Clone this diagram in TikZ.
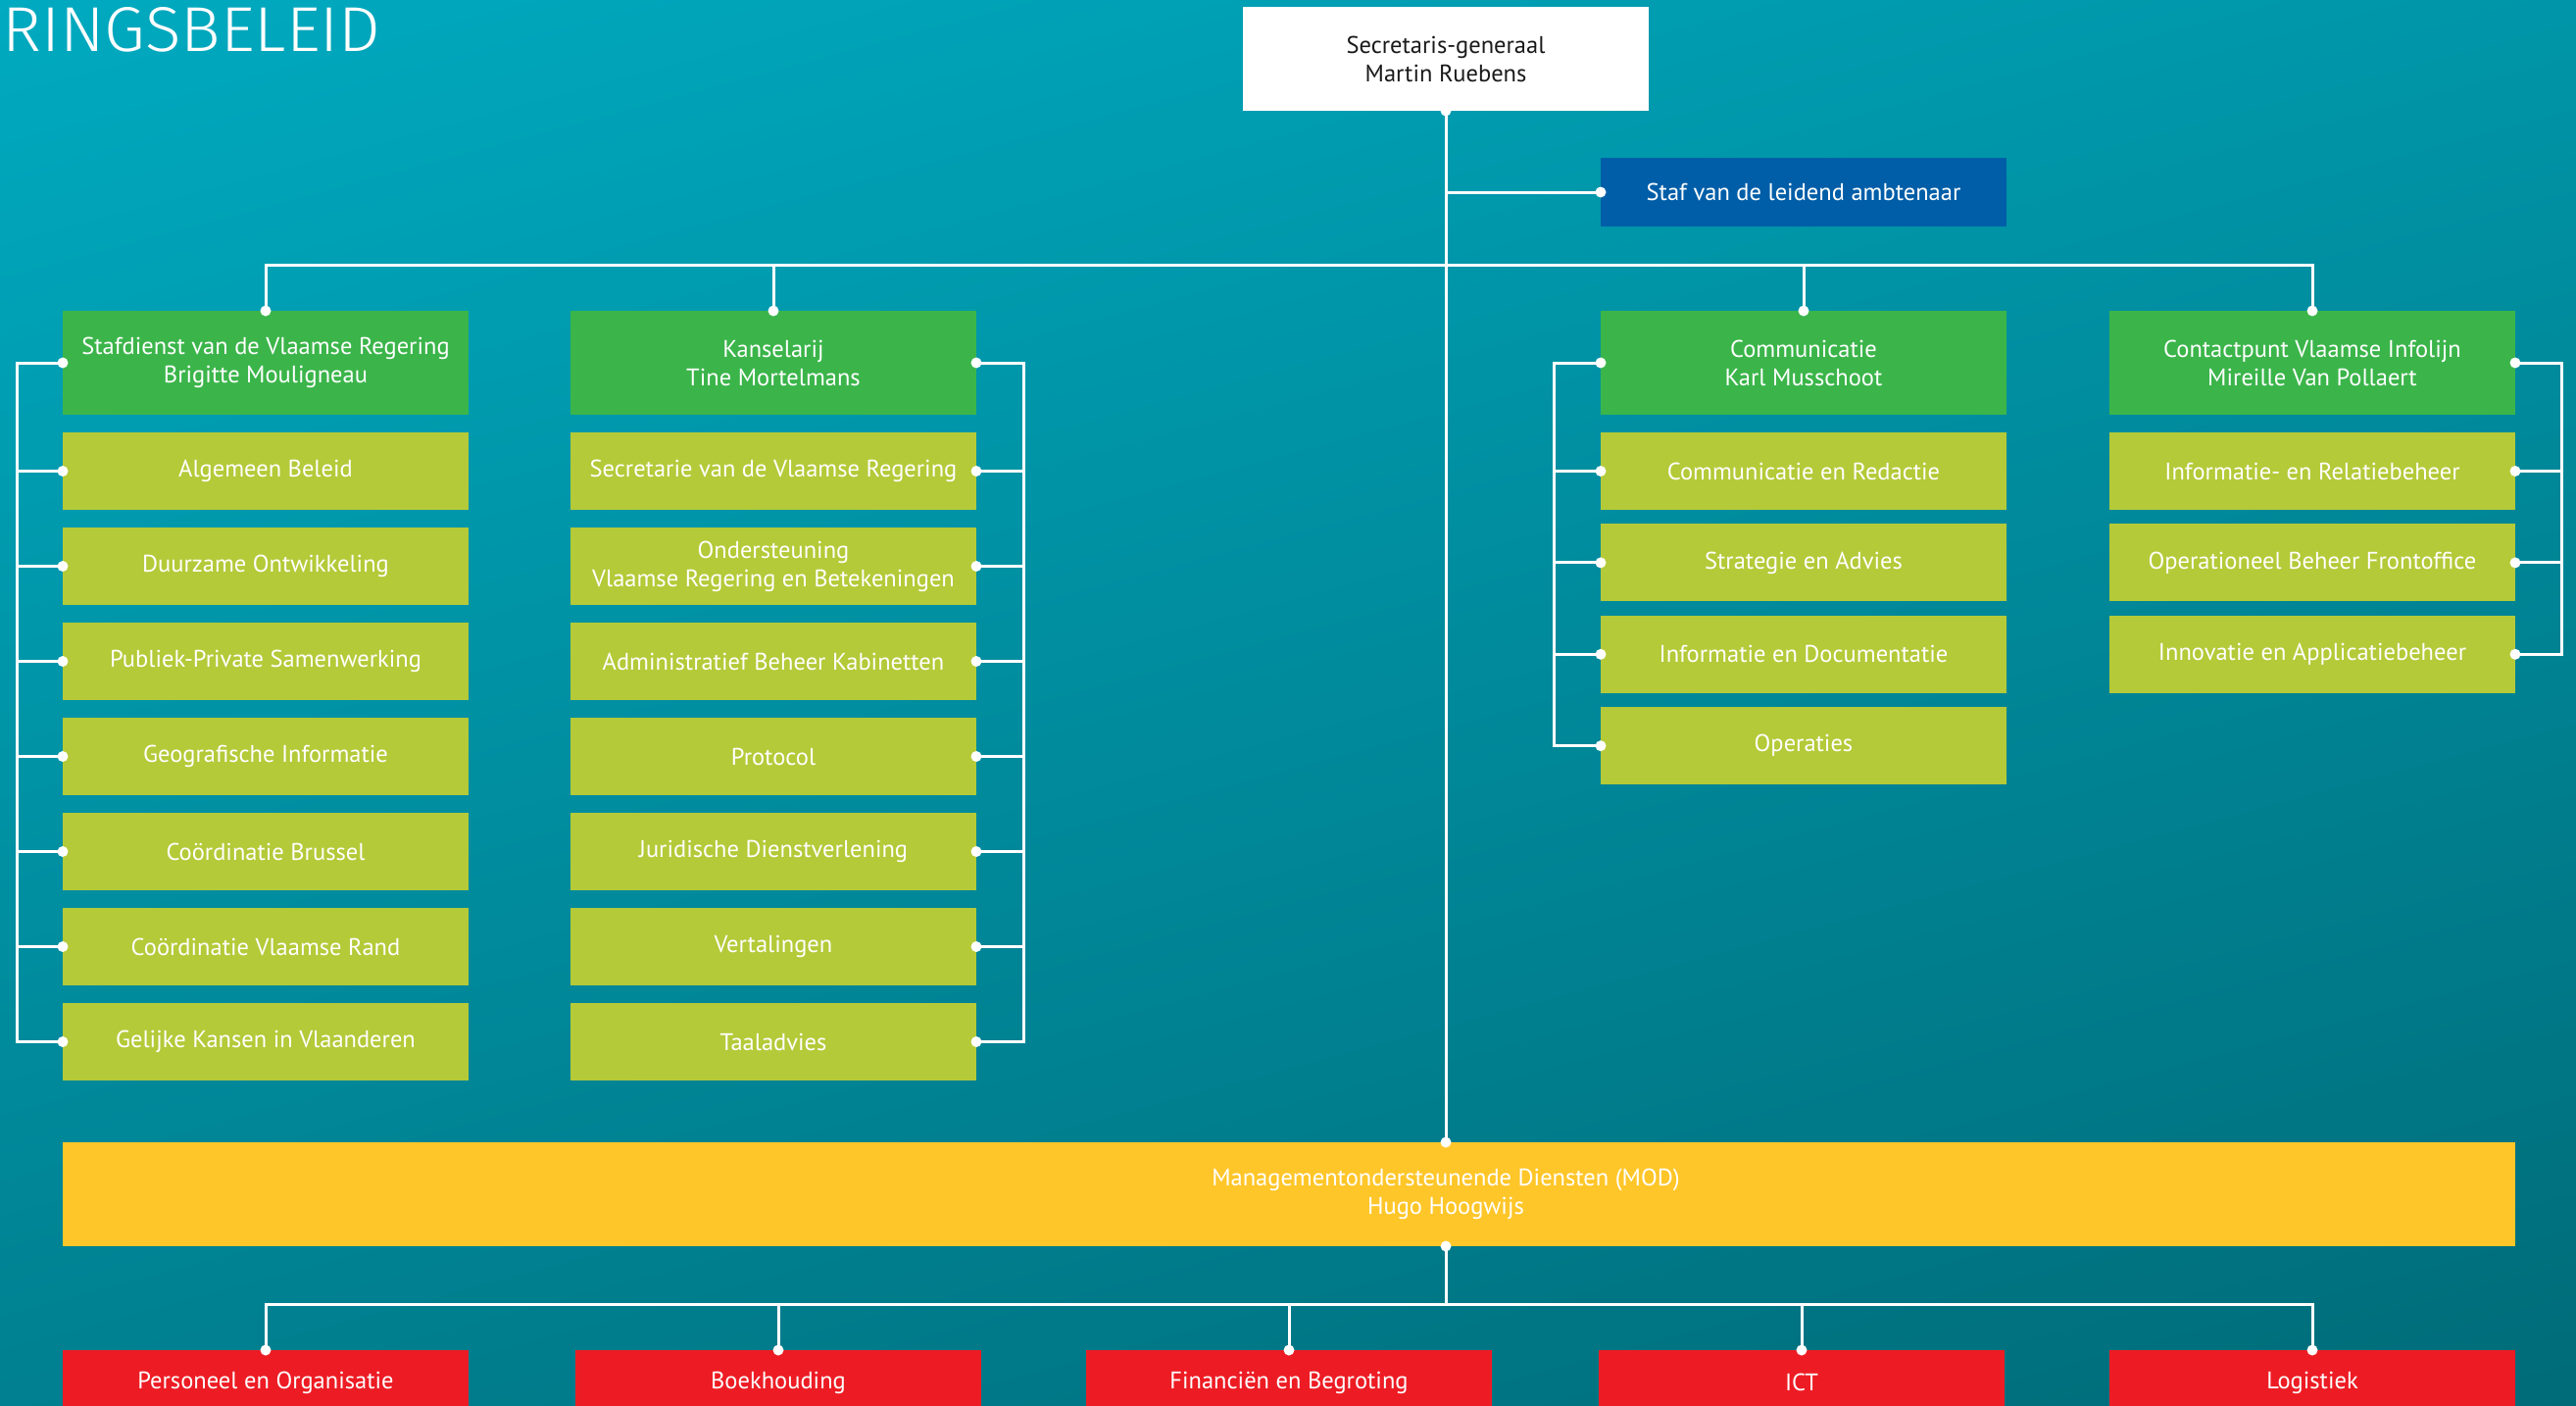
\documentclass[tikz,border=0pt]{standalone}
\usepackage{graphicx}
\usepackage{fontspec}
\setmainfont{PT Sans}
\IfFontExistsTF{Fira Sans Light}{\newfontfamily\titlefont{Fira Sans Light}}{\newfontfamily\titlefont{PT Sans}}
\definecolor{bgtop}{HTML}{00AAC0}
\definecolor{bgbot}{HTML}{006B78}
\definecolor{hdgreen}{HTML}{3BB54A}
\definecolor{limegr}{HTML}{B4CA38}
\definecolor{stafblue}{HTML}{005EA8}
\definecolor{modyellow}{HTML}{FFC629}
\definecolor{redbox}{HTML}{ED1C24}
\definecolor{darktext}{HTML}{1A1A1A}
\tikzset{
  box/.style={inner sep=0pt, outer sep=0pt, minimum width=414pt, anchor=north west,
    align=center, font=\fontsize{24.5}{29}\selectfont, text=white},
  header/.style={box, fill=hdgreen, minimum height=106pt},
  item/.style={box, fill=limegr, minimum height=79pt},
  redunit/.style={box, fill=redbox, minimum height=66pt},
  conn/.style={draw=white, line width=3pt},
}
\newcommand\dotat[1]{\fill[white] (#1) circle (5.5pt);}
\begin{document}
\begin{tikzpicture}[x=1pt,y=-1pt]
\useasboundingbox (0,0) rectangle (2628,1433);
\clip (0,0) rectangle (2628,1433);
\shade[top color=bgtop, bottom color=bgbot, shading angle=15] (-200,-200) rectangle (2828,1633);

% title
\node[anchor=south west, inner sep=0pt, text=white] (title) at (2,53)
  {\resizebox{386pt}{45pt}{\titlefont RINGSBELEID}};

% top
\node[box, fill=white, text=darktext, minimum width=414pt, minimum height=106pt] (sg) at (1268,7)
  {Secretaris-generaal\\Martin Ruebens};
\node[box, fill=stafblue, minimum height=70pt] (staf) at (1633,161) {Staf van de leidend ambtenaar};

% headers
\node[header] (s0) at (64,317) {Stafdienst van de Vlaamse Regering\\Brigitte Mouligneau};
\node[header] (k0) at (582,317) {Kanselarij\\Tine Mortelmans};
\node[header] (c0) at (1633,317) {Communicatie\\Karl Musschoot};
\node[header] (v0) at (2152,317) {Contactpunt Vlaamse Infolijn\\Mireille Van Pollaert};

% column items
\foreach \t [count=\i] in {Algemeen Beleid, Duurzame Ontwikkeling, Publiek-Private Samenwerking,
  Geografische Informatie, Coördinatie Brussel, Coördinatie Vlaamse Rand, Gelijke Kansen in Vlaanderen}
  \node[item] (s\i) at (64,{441+97*(\i-1)}) {\t};
\foreach \t [count=\i] in {Secretarie van de Vlaamse Regering, {Ondersteuning\\Vlaamse Regering en Betekeningen},
  Administratief Beheer Kabinetten, Protocol, Juridische Dienstverlening, Vertalingen, Taaladvies}
  \node[item] (k\i) at (582,{441+97*(\i-1)}) {\t};
\foreach \t [count=\i] in {Communicatie en Redactie, Strategie en Advies, Informatie en Documentatie, Operaties}
  \node[item] (c\i) at (1633,{441+93.4*(\i-1)}) {\t};
\foreach \t [count=\i] in {Informatie- en Relatiebeheer, Operationeel Beheer Frontoffice, Innovatie en Applicatiebeheer}
  \node[item] (v\i) at (2152,{441+93.4*(\i-1)}) {\t};

% MOD
\node[box, fill=modyellow, minimum width=2502pt, minimum height=106pt] (mod) at (64,1165) {};
\node[inner sep=0pt, align=center, text=white, font=\fontsize{24.5}{29}\selectfont] (modtext)
  at (sg.south |- mod.center) {Managementondersteunende Diensten (MOD)\\Hugo Hoogwijs};

% red units
\node[redunit] (r1) at (64,1377) {Personeel en Organisatie};
\node[redunit] (r2) at (587,1377) {Boekhouding};
\node[redunit] (r3) at (1108,1377) {Financiën en Begroting};
\node[redunit] (r4) at (1631,1377) {ICT};
\node[redunit] (r5) at (2152,1377) {Logistiek};

% helper coordinates
\coordinate (tbar) at (0,270);
\coordinate (bbar) at (0,1330);
\coordinate (b1) at (17,0);
\coordinate (b2) at (1044,0);
\coordinate (b3) at (1585,0);
\coordinate (b4) at (2613,0);

% trunk
\draw[conn] (sg.south) -- (sg.south |- mod.north);
\draw[conn] (staf.west) -- (staf.west -| sg.south);
\draw[conn] (s0.north) -- (s0.north |- tbar) -- (v0.north |- tbar) -- (v0.north);
\draw[conn] (k0.north) -- (k0.north |- tbar);
\draw[conn] (c0.north) -- (c0.north |- tbar);

% brackets
\draw[conn] (s0.west) -- (s0.west -| b1) |- (s7.west);
\foreach \i in {1,...,6} \draw[conn] (s\i.west) -- (s\i.west -| b1);
\draw[conn] (k0.east) -- (k0.east -| b2) |- (k7.east);
\foreach \i in {1,...,6} \draw[conn] (k\i.east) -- (k\i.east -| b2);
\draw[conn] (c0.west) -- (c0.west -| b3) |- (c4.west);
\foreach \i in {1,...,3} \draw[conn] (c\i.west) -- (c\i.west -| b3);
\draw[conn] (v0.east) -- (v0.east -| b4) |- (v3.east);
\foreach \i in {1,2} \draw[conn] (v\i.east) -- (v\i.east -| b4);

% bottom
\draw[conn] (sg.south |- mod.south) -- (sg.south |- bbar);
\draw[conn] (r1.north) -- (r1.north |- bbar) -- (r5.north |- bbar) -- (r5.north);
\foreach \i in {2,3,4} \draw[conn] (r\i.north) -- (r\i.north |- bbar);

% dots
\dotat{sg.south}
\dotat{staf.west}
\dotat{sg.south |- mod.north}
\dotat{sg.south |- mod.south}
\foreach \n in {s0,k0,c0,v0} {\dotat{\n.north}}
\foreach \i in {0,...,7} {\dotat{s\i.west} \dotat{k\i.east}}
\foreach \i in {0,...,4} {\dotat{c\i.west}}
\foreach \i in {0,...,3} {\dotat{v\i.east}}
\foreach \i in {1,...,5} {\dotat{r\i.north}}
\end{tikzpicture}
\end{document}
